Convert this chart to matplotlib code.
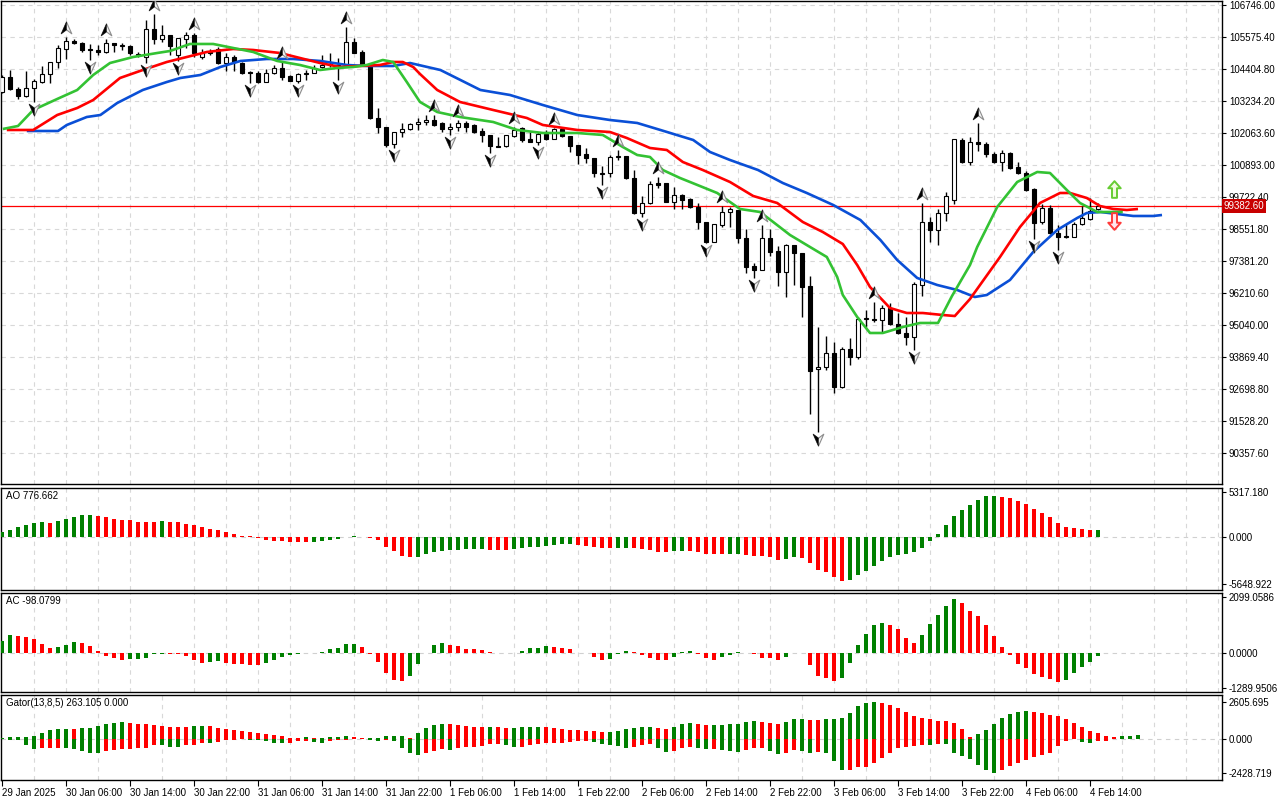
import matplotlib
matplotlib.use("Agg")
import matplotlib.pyplot as plt
import numpy as np
from matplotlib.path import Path
from matplotlib.transforms import ScaledTranslation, blended_transform_factory

plt.rcParams['font.family'] = ['Liberation Sans', 'DejaVu Sans']

# ---------------- data (hourly bars) ----------------
open_ = [103564,104112,103673,103417,103710,103929,104222,104661,105137,105429,
         105356,105137,105100,105027,105356,105246,105246,104954,104844,105868,
         105502,105649,104917,105502,105649,104844,105027,105137,104624,104844,
         104624,104295,104259,103929,104259,104442,104149,103966,104222,104259,
         104478,104551,104551,104515,105393,105027,104551,102613,102283,101661,
         102100,102210,102393,102466,102539,102430,102210,102283,102430,102357,
         102137,101991,101588,101588,101954,102247,101844,101735,102027,101844,
         102210,101954,101625,101296,101149,100564,100601,101186,101222,100418,
         99137,99503,100235,100235,99540,99796,99650,99357,98808,98077,
         98698,99174,99247,98223,97199,97052,98223,97747,96979,97967,
         97674,96467,93431,93504,94016,92772,94163,93870,95260,95260,
         95223,95662,95077,94748,94602,96504,98808,98516,99137,99613,
         101808,101003,101735,101661,101296,101003,101332,100820,100601,100015,
         98808,99320,98406,98296,98260,98735,98918,99284]
high_ = [104186,104368,103747,104332,104039,104515,104661,105283,105575,105502,
         105393,105320,105283,105502,105356,105356,105283,105027,106197,106417,
         106015,105649,105539,105758,105722,105137,105137,105210,104990,104917,
         104661,104332,104332,104405,104551,104661,104186,104259,104368,104551,
         104917,104990,104807,105941,105539,105100,104551,102978,102283,102100,
         102430,102430,102613,102722,102722,102466,102430,102539,102503,102393,
         102247,101991,101918,101991,102283,102283,102100,102100,102174,102247,
         102283,101954,101625,101515,101149,100857,101259,101442,101222,100710,
         99759,100308,100454,100235,100089,99832,99686,99503,98808,98735,
         99393,99357,99247,98552,97308,98698,98552,97930,98003,97967,
         97674,96833,94967,94638,94419,94236,94565,95333,95589,95882,
         95772,95845,95479,95333,96613,99503,98991,99284,99906,101844,
         101881,101918,102430,101735,101369,101442,101369,101003,100674,100052,
         99467,99430,98698,98735,98808,99393,99686,99503]
low_ = [103527,103637,103308,103381,103198,103893,103893,104442,104771,105320,
        105027,104734,104917,104990,105027,105100,104917,104844,104624,105320,
        105393,104917,104698,105173,104844,104771,104917,104588,104332,104332,
        104222,103893,103893,103929,104222,104003,103966,103893,104003,104259,
        104442,104478,104003,104478,104990,104551,102576,102064,101552,101515,
        101918,102174,102174,102357,102320,102100,101991,102137,102100,102064,
        101735,101332,101552,101552,101918,101735,101735,101625,101808,101844,
        101918,101369,100930,100966,100454,100162,100454,101076,100381,99101,
        98991,99467,100052,99540,99284,99284,99320,98552,98040,98077,
        98625,98625,98040,96943,96760,97052,97564,96467,96065,96504,
        95333,91785,91126,93394,92553,92736,93577,93797,94967,95150,
        94748,95040,94711,94309,94126,96101,98077,97967,98845,99467,
        100966,100893,101405,101186,100966,100674,100747,100564,99942,98186,
        98735,98369,97784,98240,98260,98698,98881,99247]
close_ = [104112,103673,103417,103710,103966,104222,104661,105173,105429,105356,
          105100,105100,105027,105356,105283,105283,104990,104917,105868,105502,
          105649,105246,105539,105649,104990,104990,104990,104624,104844,104661,
          104259,104259,103929,104259,104442,104112,103966,104222,104259,104442,
          104551,104588,104442,105393,104990,104551,102613,102283,101625,102100,
          102210,102393,102466,102539,102357,102210,102283,102430,102283,102100,
          101991,101588,101552,101991,102174,101808,101735,102027,101844,102210,
          101954,101588,101259,101149,100601,100601,101186,101222,100418,99137,
          99503,100198,100162,99540,99796,99613,99357,98808,98077,98735,
          99174,99284,98223,97162,97052,98223,97711,96979,97967,97674,
          96431,93358,93504,94016,92772,94163,93870,95260,95297,95223,
          95662,95077,94748,94602,96540,98808,98516,99137,99759,101844,
          101003,101735,101661,101296,101003,101332,100784,100601,99979,98772,
          99320,98406,98260,98250,98735,98955,99211,99382.6]

# Alligator lines (bar index, price)
jaw_x = [3.1,7.0,8.1,10.6,12.3,14.4,17.6,20.6,22.3,24.8,27.3,29.8,33.1,36.4,39.8,43.1,45.6,48.9,
         51.0,54.8,57.3,59.8,63.5,67.6,71.9,76.0,79.4,82.3,86.4,88.5,91.0,94.5,97.6,100.6,103.9,
         107.3,109.8,111.9,114.4,116.9,119.4,121.6,123.1,126.0,128.9,131.9,134.4,135.6,137.3,
         139.4,141.4,143.9,145.0]
jaw_y = [102137,102137,102357,102649,102722,103161,103637,103929,104076,104186,104478,104698,
         104771,104771,104698,104551,104515,104515,104624,104368,104003,103637,103454,103088,
         102722,102539,102430,102174,101808,101369,101076,100710,100235,99869,99430,98881,
         98150,97418,96760,96504,96321,96065,96138,96687,97711,98516,98955,99137,99174,99101,
         99028,99028,99064]
teeth_x = [0.6,3.9,5.1,6.9,9.4,11.4,14.75,17.6,20.6,23.1,25.6,28.9,31.4,34.75,37.25,39.75,
           42.25,44.75,47.25,48.9,50.1,51.4,52.25,54.4,57.25,61.4,65.6,67.6,71.9,76.0,78.1,81.0,
           83.1,85.1,87.6,91.0,93.9,96.9,100.1,102.6,105.1,106.9,108.5,111.0,113.1,115.1,117.6,
           119.1,121.0,124.75,127.25,129.75,132.25,133.5,135.6,137.25,138.9,140.6,142.0]
teeth_y = [102174,102174,102393,102722,102978,103271,104076,104368,104661,104844,105027,
           105137,105100,104990,104807,104624,104478,104515,104551,104661,104661,104478,
           104222,103637,103198,102905,102613,102357,102174,102100,101881,101515,101442,
           101003,100710,100271,99759,99503,98808,98442,98003,97235,96431,95662,95479,95479,
           95406,95369,95991,97528,98625,99503,99869,99869,99686,99393,99284,99247,99284]
lips_x = [0.1,2.0,3.9,6.9,9.4,11.4,13.5,16.4,19.4,21.0,23.5,26.4,28.9,31.4,34.4,37.25,39.75,
          41.9,43.9,45.6,47.6,48.9,50.6,52.25,54.4,57.25,61.4,64.4,67.6,71.9,75.1,77.6,79.4,
          81.0,82.6,84.75,86.0,89.4,92.25,94.75,96.4,98.5,101.0,103.1,104.4,105.1,106.9,108.5,
          110.1,112.6,114.75,117.0,118.75,121.0,121.9,124.4,126.9,129.4,131.0,133.1,134.75,
          136.9,139.4,140.1]
lips_y = [102210,102320,102905,103308,103637,104186,104624,104844,104990,105063,105320,
          105320,105173,105027,104698,104551,104368,104442,104478,104551,104734,104661,
          103929,103198,102832,102649,102466,102174,102064,102064,101991,101552,101259,
          101186,100710,100418,100271,99869,99284,99174,98808,98333,97894,97528,96796,
          96138,95333,94748,94748,94967,95114,95114,96101,97235,97894,99357,100271,100637,
          100601,99979,99503,99174,99174,99174]

fractal_up = [8, 13, 19, 24, 35, 43, 54, 57, 64, 69, 77, 82, 90, 95, 109, 115, 122]
fractal_down = [4, 11, 18, 22, 31, 37, 42, 49, 56, 61, 67, 75, 80, 88, 94, 102, 114, 129, 132]

ao = [513,834,1192,1430,1585,1705,1669,1824,2062,2301,
      2539,2575,2420,2301,2146,2026,1943,1788,1752,1728,
      1824,1705,1693,1550,1347,1109,954,834,596,274,
      119,36,-119,-393,-560,-572,-596,-679,-691,-632,
      -560,-393,-238,-83,36,12,-179,-417,-1192,-1752,
      -2324,-2467,-2444,-2062,-1871,-1752,-1585,-1550,-1490,-1466,
      -1430,-1550,-1562,-1573,-1514,-1347,-1275,-1192,-1073,-954,
      -918,-906,-989,-1109,-1192,-1311,-1395,-1311,-1299,-1323,
      -1466,-1550,-1871,-1883,-1752,-1669,-1681,-1871,-2026,-2110,
      -2122,-2098,-2086,-2181,-2265,-2348,-2467,-2742,-2706,-2467,
      -2587,-3183,-3934,-4255,-4851,-5245,-5126,-4565,-4053,-3457,
      -2861,-2467,-2146,-2026,-1871,-1311,-477,322,1395,2503,
      3218,3779,4410,4851,4887,4768,4613,4291,3898,3302,
      2825,2348,1633,1180,1000,860,740,776.662]
ac = [458,670,633,626,521,335,186,235,298,410,
      402,261,86,-86,-175,-250,-223,-212,-175,-37,
      -11,-15,-19,-101,-250,-361,-324,-298,-372,-398,
      -410,-436,-447,-361,-250,-149,-63,-11,2,7,
      48,160,186,335,339,235,-37,-324,-734,-994,
      -1032,-845,-410,26,309,372,324,261,175,149,
      112,48,26,-2,11,86,186,212,261,223,
      186,149,26,-2,-123,-250,-212,-26,74,37,
      -48,-175,-250,-253,-138,48,74,-26,-186,-235,
      -149,-63,37,-5,-37,-175,-186,-250,-138,26,
      -5,-436,-857,-931,-1032,-920,-361,298,708,1043,
      1117,1043,894,559,372,670,1080,1415,1750,2011,
      1888,1564,1378,1043,633,223,-63,-398,-547,-782,
      -883,-968,-1069,-994,-734,-510,-324,-98.0799]
gator_up = [50,92,96,142,191,404,638,688,695,685,
            759,766,900,1042,1113,1184,1134,1042,1035,971,
            900,830,822,815,922,929,900,759,688,638,
            518,475,404,333,262,191,71,21,92,21,
            71,121,142,191,121,50,53,71,163,213,
            220,35,404,759,971,1042,1035,971,922,851,
            837,844,830,759,780,830,837,844,822,759,
            674,617,610,546,539,475,482,546,688,759,
            830,837,759,688,830,1042,1113,1042,971,978,
            986,1042,1049,1184,1255,1184,1113,1042,1184,1397,
            1404,1326,1319,1397,1404,1468,1822,2318,2531,2605.695,
            2503,2361,2177,1893,1609,1468,1397,1255,1248,1113,
            688,121,333,617,1042,1468,1751,1893,1964,1893,
            1822,1680,1609,1397,1113,830,546,404,227,121,
            163,213,263.105]
gator_down = [-35,-71,-92,-425,-709,-659,-638,-631,-666,-759,
              -872,-1014,-1021,-872,-801,-759,-752,-688,-681,-447,
              -454,-588,-596,-447,-440,-284,-291,-213,-121,-71,
              -50,-57,-121,-163,-284,-291,-284,-191,-142,-213,
              -284,-191,-121,-71,-50,-21,-71,-191,-121,-128,
              -638,-993,-1134,-1014,-872,-759,-766,-659,-588,-581,
              -518,-404,-397,-475,-588,-567,-475,-404,-305,-284,
              -277,-234,-191,-163,-234,-376,-447,-518,-659,-588,
              -447,-376,-659,-943,-872,-659,-588,-659,-730,-723,
              -801,-872,-943,-801,-659,-652,-872,-1085,-1014,-801,
              -872,-1014,-943,-1014,-1581,-2219,-2212,-2006,-1999,-1723,
              -1368,-993,-659,-588,-518,-447,-454,-376,-383,-1014,
              -1227,-1439,-1865,-2219,-2428.719,-2219,-1936,-1723,-1510,-1297,
              -1156,-1014,-518,-191,-21,-213,-305,-191,-184,-50,
              -21,0,0]

price_ticks = [106746.00,105575.40,104404.80,103234.20,102063.60,100893.00,99722.40,
               98551.80,97381.20,96210.60,95040.00,93869.40,92698.80,91528.20,90357.60]
ao_ticks = [5317.180, 0.000, -5648.922]
ac_ticks = [2099.0586, 0.0000, -1289.9506]
gator_ticks = [2605.695, 0.000, -2428.719]
time_labels = ["29 Jan 2025","30 Jan 06:00","30 Jan 14:00","30 Jan 22:00","31 Jan 06:00",
               "31 Jan 14:00","31 Jan 22:00","1 Feb 06:00","1 Feb 14:00","1 Feb 22:00",
               "2 Feb 06:00","2 Feb 14:00","2 Feb 22:00","3 Feb 06:00","3 Feb 14:00",
               "3 Feb 22:00","4 Feb 06:00","4 Feb 14:00"]
bars_per_label = 8

# ---------------- figure ----------------
o = np.array(open_); h = np.array(high_); l = np.array(low_); c = np.array(close_)
n = len(c)
x = np.arange(n)

W, H = 1280, 800
fig = plt.figure(figsize=(12.8, 8), dpi=100)
fig.patch.set_facecolor('white')

def rect(top, bottom, left=1, right=1222):
    return [left / W, 1 - bottom / H, (right - left) / W, (bottom - top) / H]

ax = fig.add_axes(rect(1, 484))
ax_ao = fig.add_axes(rect(488, 590))
ax_ac = fig.add_axes(rect(593, 692))
ax_gt = fig.add_axes(rect(695, 780))
axes = [ax, ax_ao, ax_ac, ax_gt]

GRID = dict(color='#d8d8d8', linestyle=(0, (4, 4)), linewidth=0.8)
XMIN, XMAX = -0.125, 152.5
for a in axes:
    a.set_xlim(XMIN, XMAX)
    a.set_xticks(np.arange(0, XMAX, 4), minor=True)
    a.grid(which='minor', axis='x', **GRID)
    a.set_axisbelow(True)
    for s in a.spines.values():
        s.set_color('black'); s.set_linewidth(1.0)
    a.yaxis.tick_right()
    a.tick_params(axis='y', which='major', direction='out', length=3, width=0.8,
                  labelsize=7, pad=2, colors='black')
    a.tick_params(axis='x', which='minor', length=0)
    a.tick_params(axis='x', which='major', bottom=False, labelbottom=False)

# ---- main price panel ----
ax.set_ylim(89224, 106892)
ax.set_yticks(price_ticks)
ax.set_yticklabels([f"{v:.2f}" for v in price_ticks])
ax.grid(which='major', axis='y', **GRID)

ax.axhline(c[-1], color='#ff0000', linewidth=0.9, zorder=2)

bull = c >= o
ax.vlines(x, l, h, color='black', linewidth=1.0, zorder=3)
ax.bar(x, np.abs(c - o), bottom=np.minimum(o, c), width=0.6,
       color=np.where(bull, 'white', 'black'), edgecolor='black', linewidth=0.8, zorder=4)

ax.plot(jaw_x, jaw_y, color='#0a4fd6', linewidth=1.9, zorder=5, solid_capstyle='butt')
ax.plot(teeth_x, teeth_y, color='#ff0000', linewidth=1.9, zorder=6, solid_capstyle='butt')
ax.plot(lips_x, lips_y, color='#33c233', linewidth=1.9, zorder=7, solid_capstyle='butt')

def arrow_path(up=True, half=False):
    if half:
        v = [(0, 1), (0, -0.2), (-0.8, -0.8), (0, 1)]
    else:
        v = [(0, 1), (0.8, -0.8), (0, -0.2), (-0.8, -0.8), (0, 1)]
    if not up:
        v = [(a, -b) for a, b in v]
    codes = [Path.MOVETO] + [Path.LINETO] * (len(v) - 2) + [Path.CLOSEPOLY]
    return Path(v, codes)

t_up = ax.transData + ScaledTranslation(0, 9 / 100, fig.dpi_scale_trans)
t_dn = ax.transData + ScaledTranslation(0, -7 / 100, fig.dpi_scale_trans)
fu = np.array(fractal_up); fd = np.array(fractal_down)
for path_full, path_half, xs, ys, tr in [
        (arrow_path(True), arrow_path(True, True), fu, h[fu], t_up),
        (arrow_path(False), arrow_path(False, True), fd, l[fd], t_dn)]:
    ax.plot(xs, ys, linestyle='none', marker=path_full, markersize=9.5,
            markerfacecolor='#f4f4f4', markeredgecolor='#8c8c8c', markeredgewidth=0.8,
            transform=tr, zorder=8)
    ax.plot(xs, ys, linestyle='none', marker=path_half, markersize=9.5,
            markerfacecolor='black', markeredgecolor='black', markeredgewidth=0.3,
            transform=tr, zorder=9)

# signal arrows to the right of the last bar
blk = [(0, 1), (0.75, 0.15), (0.3, 0.15), (0.3, -1), (-0.3, -1), (-0.3, 0.15), (-0.75, 0.15), (0, 1)]
blk_codes = [Path.MOVETO] + [Path.LINETO] * (len(blk) - 2) + [Path.CLOSEPOLY]
blk_up = Path(blk, blk_codes)
blk_dn = Path([(a, -b) for a, b in blk], blk_codes)
sig_x = n + 1
ax.plot([sig_x], [c[-1]], linestyle='none', marker=blk_up, markersize=12,
        markerfacecolor='#f2fbe0', markeredgecolor='#66cc33', markeredgewidth=1.4,
        transform=ax.transData + ScaledTranslation(0, 17 / 100, fig.dpi_scale_trans), zorder=9)
ax.plot([sig_x], [c[-1]], linestyle='none', marker=blk_dn, markersize=12,
        markerfacecolor='#ffe6ee', markeredgecolor='#ff3b3b', markeredgewidth=1.4,
        transform=ax.transData + ScaledTranslation(0, -15 / 100, fig.dpi_scale_trans), zorder=9)

# current price tag
ax.text(1.0015, c[-1], f"{c[-1]:.2f}", transform=blended_transform_factory(ax.transAxes, ax.transData),
        ha='left', va='center', fontsize=7, color='white', zorder=10, clip_on=False,
        bbox=dict(boxstyle='square,pad=0.2', facecolor='#c80000', edgecolor='none'))

# ---- oscillators ----
GREEN, RED = '#008000', '#ff0000'

def rising_colors(vals, use_abs=False):
    v = np.abs(np.array(vals, dtype=float)) if use_abs else np.array(vals, dtype=float)
    cols = [GREEN]
    for i in range(1, len(v)):
        if v[i] > v[i - 1]:
            cols.append(GREEN)
        elif v[i] < v[i - 1]:
            cols.append(RED)
        else:
            cols.append(cols[-1])
    return cols

def setup_osc(a, ticks, fmt, ylim, label):
    a.set_ylim(*ylim)
    a.set_yticks(ticks)
    a.set_yticklabels([fmt.format(v) for v in ticks])
    a.axhline(0, color='#d0d0d0', linestyle=(0, (4, 4)), linewidth=0.8, zorder=1)
    a.annotate(label, xy=(0, 1), xycoords='axes fraction', xytext=(3.5, -2.5),
               textcoords='offset points', ha='left', va='top', fontsize=7, color='black')

setup_osc(ax_ao, ao_ticks, "{:.3f}", (-6364, 5794), f"AO {ao[-1]:.3f}")
ax_ao.bar(np.arange(len(ao)), ao, width=0.55, color=rising_colors(ao), linewidth=0, zorder=3)

setup_osc(ax_ac, ac_ticks, "{:.4f}", (-1439, 2248), f"AC {ac[-1]:.4f}")
ax_ac.bar(np.arange(len(ac)), ac, width=0.55, color=rising_colors(ac), linewidth=0, zorder=3)

setup_osc(ax_gt, gator_ticks, "{:.3f}", (-2925, 3102),
          f"Gator(13,8,5) {abs(gator_up[-1]):.3f} {abs(gator_down[-1]):.3f}")
gx = np.arange(len(gator_up))
ax_gt.bar(gx, gator_up, width=0.55, color=rising_colors(gator_up, True), linewidth=0, zorder=3)
ax_gt.bar(gx, gator_down, width=0.55, color=rising_colors(gator_down, True), linewidth=0, zorder=3)

# time axis on the bottom panel
tick_pos = np.arange(len(time_labels)) * bars_per_label
ax_gt.set_xticks(tick_pos)
ax_gt.set_xticklabels(time_labels, ha='left', fontsize=7)
ax_gt.tick_params(axis='x', which='major', bottom=True, labelbottom=True, direction='out',
                  length=4, width=0.8, pad=2)

fig.savefig("out.png", dpi=100, facecolor='white')
